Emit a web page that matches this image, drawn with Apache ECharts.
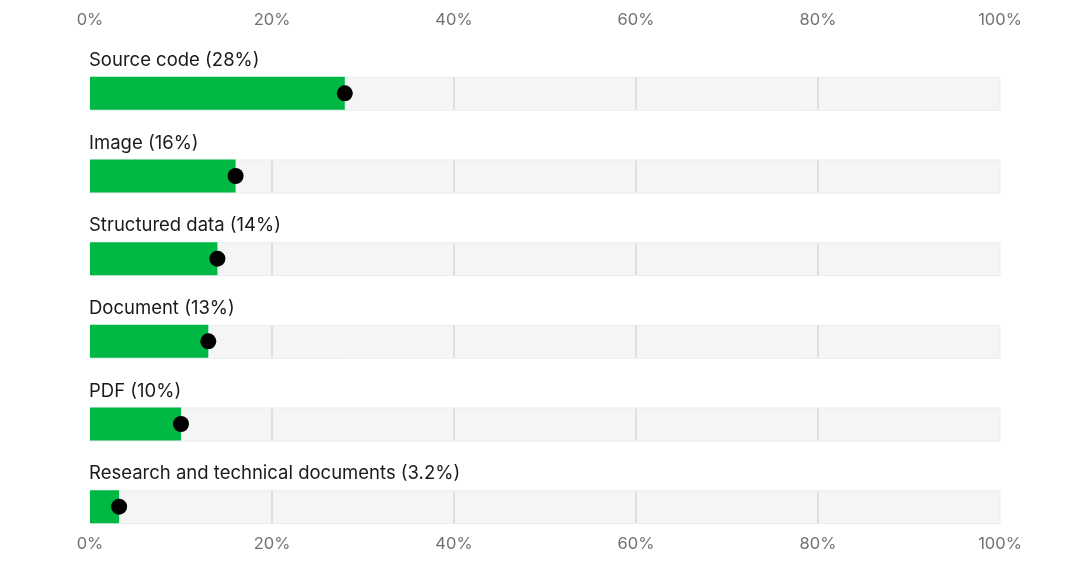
<!DOCTYPE html>
<html><head><meta charset="utf-8">
<script src="https://cdn.jsdelivr.net/npm/echarts@6/dist/echarts.min.js"></script>
<style>html,body{margin:0;padding:0;background:#fff}#c{width:1080px;height:567px}</style>
</head><body><div id="c"></div>
<script>
const categories = ['Source code','Image','Structured data','Document','PDF','Research and technical documents'];
const values = [28, 16, 14, 13, 10, 3.2];
const tickValues = [0, 20, 40, 60, 80, 100];
const gridTicks = [20, 40, 60, 80];

const chart = echarts.init(document.getElementById('c'));
const labels = categories.map((c, i) => c + ' (' + values[i] + '%)');

const axisLabel = {formatter: '{value}%', color: '#727272', fontSize: 16.5, fontFamily: 'Inter'};
chart.setOption({
  animation: false,
  grid: {left: 90, right: 80, top: 52, bottom: 19},
  xAxis: [
    {type: 'value', min: 0, max: 100, interval: 20, position: 'top', offset: 15,
     axisLine: {show: false}, axisTick: {show: false}, splitLine: {show: false}, axisLabel: axisLabel},
    {type: 'value', min: 0, max: 100, interval: 20, position: 'bottom', offset: -20,
     axisLine: {show: false}, axisTick: {show: false}, splitLine: {show: false}, axisLabel: axisLabel}
  ],
  yAxis: {type: 'category', data: categories, inverse: true, show: false},
  series: [
    {
      type: 'custom', xAxisIndex: 0,
      data: categories.map((c, i) => [i]),
      renderItem: function (params, api) {
        const idx = api.value(0);
        const p0 = api.coord([0, idx]);
        const p1 = api.coord([100, idx]);
        const h = 33;
        const children = [{
          type: 'rect',
          shape: {x: p0[0], y: p0[1] - h / 2 + 0.5, width: p1[0] - p0[0], height: h},
          style: {fill: '#f5f5f5', stroke: '#e6f0ec', lineWidth: 1}
        }];
        gridTicks.forEach(t => {
          const pt = api.coord([t, idx]);
          children.push({type: 'line', shape: {x1: pt[0], y1: p0[1] - h / 2 + 1, x2: pt[0], y2: p0[1] + h / 2},
            style: {stroke: '#dfdfdf', lineWidth: 2}});
        });
        children.push({type: 'text', style: {text: labels[idx], x: p0[0] - 1, y: p0[1] - 33,
          fill: '#1a1a1a', font: '18.5px Inter', textVerticalAlign: 'middle', align: 'left'}});
        return {type: 'group', children: children};
      },
      z: 1
    },
    {
      type: 'bar', xAxisIndex: 0, data: values, barWidth: 33,
      itemStyle: {color: '#00b844'}, z: 2
    },
    {
      type: 'scatter', xAxisIndex: 0, data: values.map((v, i) => [v, i]),
      symbolSize: 16, itemStyle: {color: '#000', opacity: 1}, z: 3
    }
  ]
});
</script></body></html>
